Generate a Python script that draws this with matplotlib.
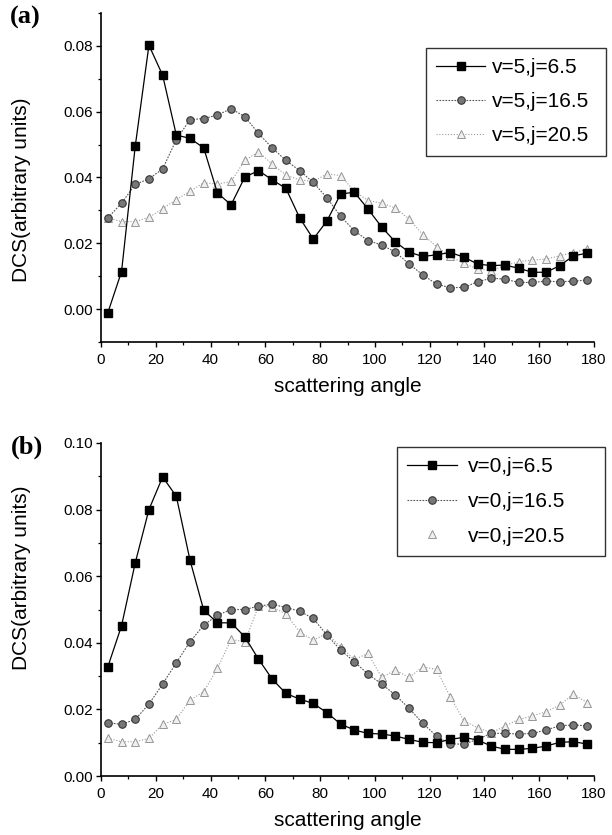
import matplotlib
matplotlib.use("Agg")
import matplotlib.pyplot as plt
from matplotlib.lines import Line2D
from matplotlib.ticker import MultipleLocator, FormatStrFormatter

plt.rcParams['font.family'] = ['Liberation Sans', 'DejaVu Sans']

angles = [2.5 + 5 * i for i in range(36)]

# Panel (a): v=5
a_j65 = [-0.0011, 0.0114, 0.0495, 0.0802, 0.0711, 0.0529, 0.0519, 0.0490, 0.0353, 0.0317,
         0.0401, 0.0421, 0.0393, 0.0367, 0.0278, 0.0213, 0.0268, 0.0350, 0.0355, 0.0304,
         0.0249, 0.0204, 0.0173, 0.0160, 0.0165, 0.0172, 0.0158, 0.0137, 0.0132, 0.0134,
         0.0124, 0.0112, 0.0112, 0.0132, 0.0162, 0.0170]
a_j165 = [0.0277, 0.0322, 0.0379, 0.0396, 0.0426, 0.0515, 0.0576, 0.0579, 0.0590, 0.0609,
          0.0585, 0.0534, 0.0490, 0.0452, 0.0421, 0.0385, 0.0338, 0.0282, 0.0238, 0.0208,
          0.0195, 0.0173, 0.0137, 0.0104, 0.0076, 0.0065, 0.0066, 0.0083, 0.0094, 0.0091,
          0.0081, 0.0081, 0.0085, 0.0083, 0.0085, 0.0088]
a_j205 = [0.0277, 0.0266, 0.0266, 0.0279, 0.0305, 0.0333, 0.0358, 0.0384, 0.0380, 0.0388,
          0.0452, 0.0478, 0.0441, 0.0407, 0.0393, 0.0388, 0.0411, 0.0406, 0.0358, 0.0330,
          0.0322, 0.0307, 0.0274, 0.0226, 0.0190, 0.0160, 0.0139, 0.0122, 0.0117, 0.0132,
          0.0144, 0.0149, 0.0152, 0.0162, 0.0172, 0.0182]

# Panel (b): v=0
b_j65 = [0.0328, 0.0451, 0.0640, 0.0800, 0.0898, 0.0840, 0.0648, 0.0498, 0.0460, 0.0460,
         0.0418, 0.0351, 0.0291, 0.0248, 0.0231, 0.0218, 0.0190, 0.0156, 0.0138, 0.0128,
         0.0126, 0.0120, 0.0110, 0.0101, 0.0100, 0.0110, 0.0116, 0.0108, 0.0090, 0.0080,
         0.0080, 0.0083, 0.0090, 0.0101, 0.0103, 0.0096]
b_j165 = [0.0160, 0.0155, 0.0170, 0.0216, 0.0276, 0.0340, 0.0403, 0.0453, 0.0483, 0.0500,
          0.0500, 0.0510, 0.0516, 0.0506, 0.0495, 0.0473, 0.0423, 0.0378, 0.0343, 0.0306,
          0.0276, 0.0243, 0.0203, 0.0158, 0.0120, 0.0096, 0.0096, 0.0110, 0.0128, 0.0128,
          0.0126, 0.0128, 0.0138, 0.0151, 0.0153, 0.0151]
b_j205 = [0.0113, 0.0103, 0.0103, 0.0113, 0.0155, 0.0170, 0.0228, 0.0253, 0.0323, 0.0410,
          0.0403, 0.0510, 0.0508, 0.0486, 0.0433, 0.0408, 0.0428, 0.0388, 0.0350, 0.0368,
          0.0296, 0.0318, 0.0296, 0.0328, 0.0320, 0.0238, 0.0166, 0.0145, 0.0130, 0.0150,
          0.0170, 0.0180, 0.0193, 0.0213, 0.0246, 0.0220]

labels_a = ["v=5,j=6.5", "v=5,j=16.5", "v=5,j=20.5"]
labels_b = ["v=0,j=6.5", "v=0,j=16.5", "v=0,j=20.5"]

W, H = 612, 835
fig = plt.figure(figsize=(W / 100, H / 100), dpi=100)

def fx(p):
    return p / W

def fy(p):
    return 1 - p / H

A_TOP, A_BOT = 13, 342
B_TOP, B_BOT = 443, 776
LEFT, RIGHT = 101, 594
ax_a = fig.add_axes([fx(LEFT), fy(A_BOT), fx(RIGHT - LEFT), (A_BOT - A_TOP) / H])
ax_b = fig.add_axes([fx(LEFT), fy(B_BOT), fx(RIGHT - LEFT), (B_BOT - B_TOP) / H])

sq = dict(color='black', lw=0.9, ls='-', marker='s', ms=5.8, mfc='black', mec='black')
ci = dict(color='#555555', lw=0.8, ls=(0, (1.5, 1.2)), marker='o', ms=5.4,
          mfc='#777777', mec='#353535', mew=0.8)
tr = dict(color='#9a9a9a', lw=0.8, ls=(0, (1, 1.6)), marker='^', ms=5.4,
          mfc='#f0f0f0', mec='#959595', mew=0.7)

def style(ax, ylim, ymaj, top, bot, ylab_center):
    ax.set_xlim(0, 180)
    ax.set_ylim(*ylim)
    for s in ('top', 'right'):
        ax.spines[s].set_visible(False)
    for s in ('left', 'bottom'):
        ax.spines[s].set_linewidth(1.2)
    ax.xaxis.set_major_locator(MultipleLocator(20))
    ax.xaxis.set_minor_locator(MultipleLocator(10))
    ax.yaxis.set_major_locator(MultipleLocator(ymaj))
    ax.yaxis.set_minor_locator(MultipleLocator(ymaj / 2))
    ax.yaxis.set_major_formatter(FormatStrFormatter('%.2f'))
    ax.tick_params(which='major', direction='out', length=3.6, width=1.0, labelsize=11)
    ax.tick_params(axis='y', which='major', pad=2.5)
    ax.tick_params(axis='x', which='major', pad=4)
    ax.tick_params(which='minor', direction='out', length=2.2, width=0.9)
    h = bot - top
    ax.set_xlabel('scattering angle', fontsize=15)
    ax.xaxis.label.set_va('center')
    ax.xaxis.set_label_coords(0.5, -45 / h)
    ax.set_ylabel('DCS(arbitrary units)', fontsize=15)
    ax.yaxis.label.set_va('center')
    ax.yaxis.label.set_ha('center')
    ax.yaxis.set_label_coords((22 - LEFT) / (RIGHT - LEFT), (bot - ylab_center) / h)

# Panel (a)
ax_a.plot(angles, a_j205, **tr)
ax_a.plot(angles, a_j165, **ci)
ax_a.plot(angles, a_j65, **sq)
style(ax_a, (-0.01, 0.09), 0.02, A_TOP, A_BOT, 190)
ax_a.set_yticks([0.0, 0.02, 0.04, 0.06, 0.08])
h_a = [Line2D([], [], **sq), Line2D([], [], **ci), Line2D([], [], **tr)]
leg_a = ax_a.legend(h_a, labels_a, loc='upper left',
                    bbox_to_anchor=(fx(426), fy(48), 180 / W, 0), mode='expand',
                    bbox_transform=fig.transFigure, borderaxespad=0, fontsize=15,
                    frameon=True, fancybox=False, edgecolor='black', handlelength=2.35,
                    labelspacing=0.72, borderpad=0.5, handletextpad=0.3)
leg_a.get_frame().set_linewidth(1.0)

# Panel (b)
ax_b.plot(angles, b_j205, **tr)
ax_b.plot(angles, b_j165, **ci)
ax_b.plot(angles, b_j65, **sq)
style(ax_b, (0.0, 0.10), 0.02, B_TOP, B_BOT, 578)
tr_leg = dict(tr)
tr_leg['ls'] = 'none'
h_b = [Line2D([], [], **sq), Line2D([], [], **ci), Line2D([], [], **tr_leg)]
leg_b = ax_b.legend(h_b, labels_b, loc='upper left',
                    bbox_to_anchor=(fx(397), fy(447), 208 / W, 0), mode='expand',
                    bbox_transform=fig.transFigure, borderaxespad=0, fontsize=15,
                    frameon=True, fancybox=False, edgecolor='black', handlelength=2.4,
                    labelspacing=0.75, borderpad=0.5, handletextpad=0.5)
leg_b.get_frame().set_linewidth(1.0)

fig.text(fx(25), fy(17), '(a)', family='Liberation Serif', fontweight='bold',
         fontsize=19, ha='center', va='center')
fig.text(fx(27), fy(447), '(b)', family='Liberation Serif', fontweight='bold',
         fontsize=19, ha='center', va='center')

fig.savefig('out.png', dpi=100)
